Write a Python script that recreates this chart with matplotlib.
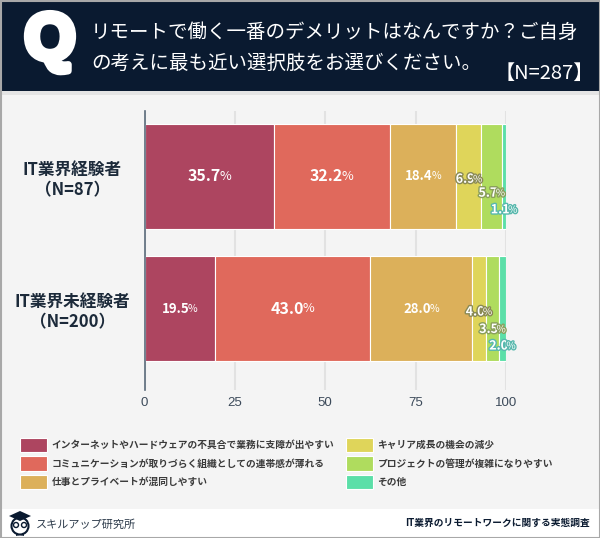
import numpy as np
import matplotlib
matplotlib.use('Agg')
import matplotlib.pyplot as plt
import matplotlib.patheffects as pe
from matplotlib.patches import Rectangle, Circle, Polygon

plt.rcParams['font.family'] = ['Noto Sans CJK JP', 'DejaVu Sans']

groups = ['IT業界経験者\n（N=87）', 'IT業界未経験者\n（N=200）']
answers = ['インターネットやハードウェアの不具合で業務に支障が出やすい',
           'コミュニケーションが取りづらく組織としての連帯感が薄れる',
           '仕事とプライベートが混同しやすい',
           'キャリア成長の機会の減少',
           'プロジェクトの管理が複雑になりやすい',
           'その他']
experienced = [35.7, 32.2, 18.4, 6.9, 5.7, 1.1]
inexperienced = [19.5, 43.0, 28.0, 4.0, 3.5, 2.0]
x_ticks = [0, 25, 50, 75, 100]

colors = ['#ad4560', '#e0695c', '#dcb05a', '#dfd55a', '#afdc5e', '#5bdfa8']
outline = ['#7a3044', '#a04a40', '#8a7a3a', '#8a8a55', '#8a9f5c', '#58b8ad']
NAVY = '#0a1a30'
W, H = 600, 538

fig = plt.figure(figsize=(W / 100, H / 100), dpi=100, facecolor='#f4f4f4')

# page furniture drawn in pixel coordinates
bg = fig.add_axes([0, 0, 1, 1], zorder=0)
bg.set_xlim(0, W)
bg.set_ylim(H, 0)
bg.axis('off')
bg.add_patch(Rectangle((0, 91), W, 4, color='#e4e4e4', lw=0))
bg.add_patch(Rectangle((0, 0), W, 91, color=NAVY, lw=0))
bg.add_patch(Rectangle((0, 509), W, 29, color='white', lw=0))
bg.add_patch(Rectangle((0.5, 0.5), W - 1, H - 1, fill=False, ec='#a8a8a8', lw=1.5))

bg.text(50, 42, 'Q', color='white', fontsize=47, fontweight='bold',
        ha='center', va='center', family=['Liberation Sans'],
        path_effects=[pe.withStroke(linewidth=5, foreground='white')])
bg.text(91, 33, 'リモートで働く一番のデメリットはなんですか？ご自身', color='white',
        fontsize=14, ha='left', va='center')
bg.text(91, 63, 'の考えに最も近い選択肢をお選びください。', color='white',
        fontsize=14, ha='left', va='center')
bg.text(594, 73, '【N=287】', color='white', fontsize=14.5, ha='right', va='center')

# footer owl logo
bg.add_patch(Circle((20, 526), 8.5, fc='white', ec=NAVY, lw=1.5))
bg.add_patch(Polygon([[9, 516], [20, 511], [31, 516], [20, 521]], color=NAVY, lw=0))
bg.add_patch(Circle((16, 525), 2.5, fc='white', ec=NAVY, lw=1))
bg.add_patch(Circle((24, 525), 2.5, fc='white', ec=NAVY, lw=1))
bg.add_patch(Polygon([[16, 533], [20, 535], [24, 533], [24, 536], [20, 535], [16, 536]], color=NAVY, lw=0))
bg.text(36, 525, 'スキルアップ研究所', color='#2c3a4a', fontsize=8, ha='left', va='center')
bg.text(590, 523, 'IT業界のリモートワークに関する実態調査', color=NAVY, fontsize=7,
        fontweight='bold', ha='right', va='center')

ax = fig.add_axes([144.5 / W, 1 - 390 / H, (506 - 144.5) / W, (390 - 111) / H], zorder=1)
ax.patch.set_alpha(0)
y = np.arange(len(groups))
series = np.array([experienced, inexperienced])
left = np.zeros(len(groups))
bars = []
for i, answer in enumerate(answers):
    b = ax.barh(y, series[:, i], left=left, height=0.795, color=colors[i],
                edgecolor='white', linewidth=0.8, label=answer, zorder=3)
    bars.append(b)
    left = left + series[:, i]

ax.set_xlim(0, 100)
ax.set_ylim(1.617, -0.496)
ax.set_xticks(x_ticks)
ax.set_yticks(y)
ax.set_yticklabels(groups, fontsize=12, fontweight='bold', color='#1c2a3a',
                   ha='center', multialignment='center', linespacing=1.2)
ax.tick_params(axis='y', length=0, pad=52)
ax.tick_params(axis='x', length=0, pad=5, labelsize=9.5, labelcolor='#3c4a5a')
for t in ax.get_xticklabels():
    t.set_family(['Liberation Sans'])
ax.grid(axis='x', color='#e2e2e2', linewidth=1.5, zorder=0)
ax.set_axisbelow(True)
for s in ['top', 'right', 'bottom']:
    ax.spines[s].set_visible(False)
ax.spines['left'].set_color('#5a6a7a')
ax.spines['left'].set_linewidth(1.2)
ax.spines['left'].set_zorder(5)

fig.canvas.draw()
renderer = fig.canvas.get_renderer()


def draw_label(cx, cy, value, color_idx, dy):
    # number plus a smaller percent sign, centred together on the segment
    if value >= 30:
        size = 11.5
    elif value >= 15:
        size = 9.5
    else:
        size = 9
    fx = None
    if value < 15:
        fx = [pe.withStroke(linewidth=2.0, foreground=outline[color_idx])]
    kw = dict(color='white', va='center', zorder=6, textcoords='offset points',
              xycoords='data', path_effects=fx, annotation_clip=False)
    num = ax.annotate(f'{value:.1f}', (cx, cy), xytext=(0, -dy), ha='left', fontsize=size,
                      fontweight='bold', **kw)
    pct = ax.annotate('%', (cx, cy), xytext=(0, -dy), ha='left', fontsize=size * 0.8, **kw)
    wn = num.get_window_extent(renderer).width * 0.72 - 1.0
    wp = pct.get_window_extent(renderer).width * 0.72
    total = wn + wp
    num.xyann = (-total / 2, -dy)
    pct.xyann = (-total / 2 + wn, -dy)


step_offsets = [[0, 0, 0, 2, 12, 24], [0, 0, 0, 2.5, 15, 27]]
for row in range(len(groups)):
    start = 0
    for i in range(len(answers)):
        v = series[row, i]
        draw_label(start + v / 2, y[row], v, i, step_offsets[row][i])
        start += v

handles = [b[0] for b in bars]
fig.legend(handles, answers, ncols=2, loc='upper left',
           bbox_to_anchor=(18.5 / W, 1 - 436 / H), frameon=False,
           handlelength=2.78, handleheight=1.85, handletextpad=0.45,
           labelspacing=0.46, columnspacing=1.18, borderpad=0.2, borderaxespad=0,
           labelcolor='#3a3a3a', prop={'size': 7, 'weight': 'bold'})

fig.savefig('out.png', dpi=100, facecolor=fig.get_facecolor())
